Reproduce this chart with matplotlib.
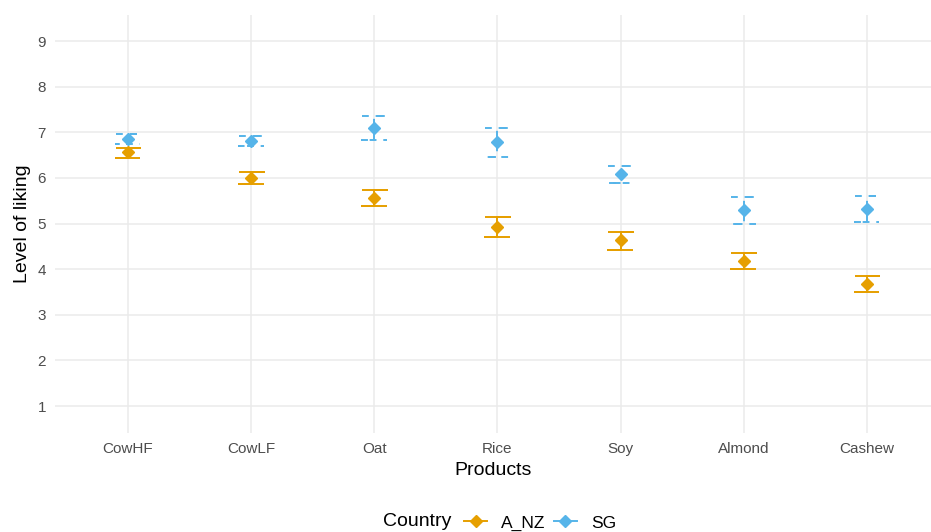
import numpy as np
import matplotlib.pyplot as plt
from matplotlib.lines import Line2D

plt.rcParams['font.family'] = ['Liberation Sans', 'DejaVu Sans']

# Mean liking scores with lower/upper error limits per product and country
products = ['CowHF', 'CowLF', 'Oat', 'Rice', 'Soy', 'Almond', 'Cashew']
anz_mean = [6.56, 6.00, 5.57, 4.93, 4.63, 4.19, 3.68]
anz_low = [6.44, 5.87, 5.38, 4.71, 4.43, 4.00, 3.49]
anz_high = [6.66, 6.12, 5.73, 5.14, 4.82, 4.36, 3.85]
sg_mean = [6.86, 6.81, 7.10, 6.79, 6.08, 5.30, 5.32]
sg_low = [6.75, 6.70, 6.82, 6.46, 5.89, 4.99, 5.04]
sg_high = [6.96, 6.92, 7.36, 7.10, 6.26, 5.59, 5.60]

orange = '#E69F00'
blue = '#56B4E9'

fig = plt.figure(figsize=(9.31, 5.32), dpi=100)
ax = fig.add_axes([55 / 931, 99 / 532, 876 / 931, 418 / 532])

x = np.arange(1, len(products) + 1)
half = 0.1
lw = 1.4
dashed = (0, (3.5, 3.5))


def errorbars(means, lows, highs, color, ls):
    for xi, m, lo, hi in zip(x, means, lows, highs):
        # one path per bar: top cap, stem, bottom cap
        px = [xi - half, xi + half, xi, xi, xi - half, xi + half]
        py = [hi, hi, hi, lo, lo, lo]
        ax.plot(px, py, color=color, lw=lw, ls=ls, solid_capstyle='butt',
                dash_capstyle='butt', zorder=3)
    ax.plot(x, means, ls='none', marker='D', ms=5.8, color=color, mec=color, zorder=4)


errorbars(anz_mean, anz_low, anz_high, orange, '-')
errorbars(sg_mean, sg_low, sg_high, blue, dashed)

ax.set_xlim(0.407, 7.52)
ax.set_ylim(0.41, 9.57)
ax.set_xticks(x)
ax.set_xticklabels(products)
ax.set_yticks(range(1, 10))
ax.tick_params(length=0, labelsize=11, labelcolor='#4D4D4D')
ax.tick_params(axis='x', pad=6.5)
ax.tick_params(axis='y', pad=6.5)
ax.grid(True, color='#EBEBEB', lw=1.1)
ax.set_axisbelow(True)
for s in ax.spines.values():
    s.set_visible(False)

ax.set_xlabel('Products', fontsize=14, labelpad=4.5)
ax.set_ylabel('Level of liking', fontsize=14, labelpad=5)

handles = [
    Line2D([], [], color=orange, lw=lw, marker='D', ms=5.8),
    Line2D([], [], color=blue, lw=lw, marker='D', ms=5.8),
]
fig.text(383 / 931, 1 - 522 / 532, 'Country', fontsize=14, va='center', ha='left')
fig.legend(handles, ['A_NZ', 'SG'], ncol=2, frameon=False, fontsize=12.5,
           loc='center left', bbox_to_anchor=(464 / 931, 1 - 523 / 532),
           handlelength=1.35, handletextpad=0.8, columnspacing=0.45,
           borderaxespad=0, borderpad=0)

fig.savefig('out.png', dpi=100, facecolor='white')
